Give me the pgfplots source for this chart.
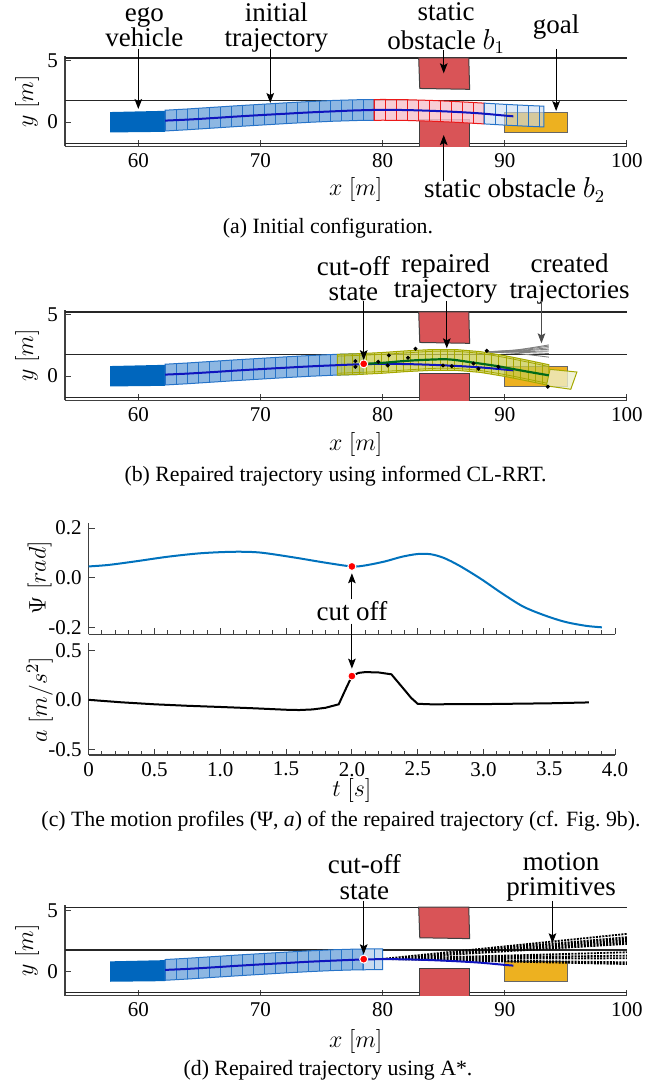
\documentclass[border=0pt]{standalone}
\usepackage{fontspec}
\setmainfont{Liberation Serif}
\usepackage{pgfplots}
\pgfplotsset{compat=1.18}
\usetikzlibrary{arrows.meta}

\definecolor{egoblue}{RGB}{0,102,189}
\definecolor{bandfill}{RGB}{141,183,226}
\definecolor{bandedge}{RGB}{38,115,200}
\definecolor{paleblue}{RGB}{200,218,240}
\definecolor{pinkfill}{RGB}{247,196,206}
\definecolor{rededge}{RGB}{235,25,25}
\definecolor{obst}{RGB}{217,84,87}
\definecolor{goalc}{RGB}{237,177,32}
\definecolor{trajblue}{RGB}{15,20,190}
\definecolor{repgreen}{RGB}{0,105,25}
\definecolor{yelfill}{RGB}{200,203,80}
\definecolor{yeledge}{RGB}{165,168,0}
\definecolor{psiblue}{RGB}{0,114,189}

\newcommand{\annfont}{\fontsize{13.5}{12.6}\selectfont}
\newcommand{\labfont}{\fontsize{13}{15}\selectfont}
\newcommand{\capfont}{\fontsize{10.9}{12}\selectfont}

\tikzset{
  ann/.style={font=\annfont, align=center, inner sep=0pt},
  annarrow/.style={-{Stealth[length=5pt,width=3.8pt,inset=1pt]}, line width=0.5pt, black},
}

\pgfplotsset{
  road/.style={
    scale only axis, width=281pt, height=45.2pt,
    xmin=54, xmax=100, ymin=-2, ymax=5.4,
    axis x line*=bottom, axis y line*=left,
    axis line style={black!75, line width=0.6pt},
    xtick={60,70,80,90,100}, xticklabels={60,70,80,90,100},
    ytick={0,5}, yticklabels={0,5},
    tick align=inside, major tick length=3pt,
    tick style={black!75, line width=0.5pt},
    ticklabel style={font=\fontsize{10.5}{12}\selectfont},
    clip mode=individual,
  },
  prof/.style={
    scale only axis, width=263.2pt, height=55.8pt,
    xmin=0, xmax=4,
    axis x line*=bottom, axis y line*=left,
    axis line style={black!75, line width=0.6pt},
    xtick={0,0.5,...,4}, minor x tick num=4,
    tick align=inside, major tick length=3pt, minor tick length=2pt,
    tick style={black!75, line width=0.5pt},
    ticklabel style={font=\fontsize{10.5}{12}\selectfont},
    clip mode=individual,
  },
  lanes/.style={black!85, line width=0.6pt},
  obstacle/.style={fill=obst, draw=black!75, line width=0.5pt},
  cutdot/.style={only marks, mark=*, mark size=2pt, mark options={fill=red, draw=white, line width=0.5pt}},
  fan/.style={black!50, line width=0.45pt, smooth},
}

\begin{document}
\begin{tikzpicture}
\useasboundingbox (0,0) rectangle (328pt,544.5pt);

%% (a) initial configuration
\begin{axis}[road, at={(32.5pt,471.25pt)}, anchor=south west]
\addplot[lanes] coordinates {(54,5.25)(100,5.25)};
\addplot[lanes] coordinates {(54,1.75)(100,1.75)};
\addplot[lanes] coordinates {(54,-1.75)(100,-1.75)};
\addplot[obstacle] coordinates {(82.95,5.25)(87.05,5.25)(87.12,2.68)(83.04,2.75)} -- cycle;
\addplot[obstacle] coordinates {(83.04,-2.3)(83.04,0.25)(87.12,0.25)(87.12,-2.3)} -- cycle;
\addplot[fill=goalc, draw=black!60, line width=0.5pt] coordinates {(90,-0.85)(95.1,-0.85)(95.1,0.78)(90,0.78)} -- cycle;
\addplot[fill=egoblue, draw=none] coordinates {(57.7,-0.85)(62.2,-0.8)(62.2,0.92)(57.7,0.82)} -- cycle;
% blue footprints
\addplot[fill=bandfill, draw=bandedge, line width=0.5pt] coordinates {
 (62.2,0.97)(64,1.07)(66,1.20)(68,1.33)(70,1.45)(72,1.57)(74,1.68)(76,1.77)(78,1.83)(79.3,1.84)
 (79.3,0.14)(78,0.13)(76,0.07)(74,-0.02)(72,-0.13)(70,-0.25)(68,-0.37)(66,-0.50)(64,-0.63)(62.2,-0.73)} -- cycle;
\addplot[bandedge, line width=0.5pt, quiver={u=0,v=1.7}] coordinates {
 (62.2,-0.73)(63.1,-0.68)(64.0,-0.63)(64.9,-0.57)(65.8,-0.51)(66.7,-0.45)(67.6,-0.40)(68.5,-0.34)
 (69.4,-0.29)(70.3,-0.23)(71.2,-0.18)(72.1,-0.12)(73.0,-0.07)(73.9,-0.03)(74.8,0.02)(75.7,0.06)
 (76.6,0.09)(77.5,0.12)(78.4,0.13)};
% colliding footprints
\addplot[fill=pinkfill, fill opacity=0.85, draw=rededge, line width=0.5pt] coordinates {
 (79.3,1.84)(80,1.85)(82,1.83)(84,1.77)(86,1.68)(88.3,1.55)
 (88.3,-0.15)(86,-0.02)(84,0.07)(82,0.13)(80,0.15)(79.3,0.14)} -- cycle;
\addplot[rededge, line width=0.5pt, quiver={u=0,v=1.7}] coordinates {
 (79.3,0.14)(80.2,0.15)(81.1,0.14)(82.0,0.13)(82.9,0.10)(83.8,0.08)(84.7,0.04)(85.6,0.00)
 (86.5,-0.05)(87.4,-0.10)};
\addplot[fill=paleblue, fill opacity=0.6, draw=bandedge, line width=0.5pt] coordinates {
 (88.3,1.55)(90,1.45)(92,1.35)(93.2,1.30)(93.2,-0.40)(92,-0.35)(90,-0.25)(88.3,-0.15)} -- cycle;
\addplot[bandedge, line width=0.5pt, quiver={u=0,v=1.7}] coordinates {
 (88.3,-0.15)(89.2,-0.20)(90.1,-0.25)(91.0,-0.30)(91.9,-0.35)(92.8,-0.38)};
\addplot[trajblue, line width=1pt, smooth] coordinates {
 (62.2,0.12)(64,0.2)(66,0.32)(68,0.45)(70,0.57)(72,0.68)(74,0.79)(76,0.88)(78,0.96)
 (80,1.0)(82,0.98)(84,0.92)(86,0.83)(88,0.71)(90,0.53)(90.7,0.47)};
\node[ann] at (axis cs:60.5,7.75) {ego\\vehicle};
\node[ann] at (axis cs:71.3,7.75) {initial\\trajectory};
\node[ann] at (axis cs:85.2,7.7) {static\\[2pt]obstacle $b_1$};
\node[ann] at (axis cs:94.2,7.75) {goal};
\node[ann] at (axis cs:90.8,-5.56) {static obstacle $b_2$};
\node[font=\labfont] at (axis cs:77.8,-5.56) {$x\ [m]$};
\node[font=\labfont, rotate=90] at (axis cs:50.9,1.7) {$y\ [m]$};
\draw[annarrow] (axis cs:60,6.0) -- (axis cs:60,1.07);
\draw[annarrow] (axis cs:70.8,6.0) -- (axis cs:70.8,1.56);
\draw[annarrow] (axis cs:85,5.9) -- (axis cs:85,3.99);
\draw[annarrow] (axis cs:94.2,6.0) -- (axis cs:94.2,0.9);
\draw[annarrow] (axis cs:85,-4.82) -- (axis cs:85,-1.06);
\end{axis}
\node[font=\capfont] at (164pt,430.6pt) {(a) Initial configuration.};

%% (b) informed CL-RRT
\begin{axis}[road, at={(32.5pt,344.25pt)}, anchor=south west]
\addplot[lanes] coordinates {(54,5.25)(100,5.25)};
\addplot[lanes] coordinates {(54,1.75)(100,1.75)};
\addplot[lanes] coordinates {(54,-1.75)(100,-1.75)};
\addplot[obstacle] coordinates {(82.95,5.25)(87.05,5.25)(87.12,2.68)(83.04,2.75)} -- cycle;
\addplot[obstacle] coordinates {(83.04,-2.3)(83.04,0.25)(87.12,0.25)(87.12,-2.3)} -- cycle;
\addplot[fill=goalc, draw=black!60, line width=0.5pt] coordinates {(90,-0.85)(95.1,-0.85)(95.1,0.78)(90,0.78)} -- cycle;
\addplot[fill=egoblue, draw=none] coordinates {(57.7,-0.85)(62.2,-0.8)(62.2,0.92)(57.7,0.82)} -- cycle;
\addplot[fill=bandfill, draw=bandedge, line width=0.5pt] coordinates {
 (62.2,0.97)(64,1.07)(66,1.20)(68,1.33)(70,1.45)(72,1.57)(74,1.68)(76,1.77)(78,1.83)(78.4,1.83)
 (78.4,0.13)(78,0.13)(76,0.07)(74,-0.02)(72,-0.13)(70,-0.25)(68,-0.37)(66,-0.50)(64,-0.63)(62.2,-0.73)} -- cycle;
\addplot[bandedge, line width=0.5pt, quiver={u=0,v=1.7}] coordinates {
 (62.2,-0.73)(63.1,-0.68)(64.0,-0.63)(64.9,-0.57)(65.8,-0.51)(66.7,-0.45)(67.6,-0.40)(68.5,-0.34)
 (69.4,-0.29)(70.3,-0.23)(71.2,-0.18)(72.1,-0.12)(73.0,-0.07)(73.9,-0.03)(74.8,0.02)(75.7,0.06)
 (76.6,0.09)(77.5,0.12)(78.4,0.13)};
% created trajectories
\addplot[fan] coordinates {(88.4,1.98)(91,2.15)(93.6,2.55)};
\addplot[fan] coordinates {(88.4,1.98)(91,2.12)(93.6,2.45)};
\addplot[fan] coordinates {(88.4,1.98)(91,2.08)(93.6,2.32)};
\addplot[fan] coordinates {(88.4,1.98)(91,2.05)(93.6,2.2)};
\addplot[fan] coordinates {(88.4,1.98)(91,2.0)(93.6,2.05)};
\addplot[fan] coordinates {(88.4,1.98)(91,1.95)(93.6,1.85)};
\addplot[fan] coordinates {(88.4,1.98)(91,1.85)(93.6,1.55)};
% repaired footprints
\addplot[fill=yelfill, fill opacity=0.75, draw=yeledge, line width=0.5pt] coordinates {
 (76.3,1.78)(78,1.83)(80,1.93)(82,2.07)(84,2.17)(86,2.17)(88,2.00)(90,1.67)(92,1.27)(93.6,0.93)
 (93.6,-0.77)(92,-0.43)(90,-0.03)(88,0.30)(86,0.47)(84,0.47)(82,0.37)(80,0.23)(78,0.13)(76.3,0.08)} -- cycle;
\addplot[yeledge, line width=0.4pt, quiver={u=0,v=1.7}] coordinates {
 (76.3,0.08)(76.9,0.10)(77.5,0.115)(78.1,0.135)(78.7,0.165)(79.3,0.195)(79.9,0.225)(80.5,0.265)
 (81.1,0.31)(81.7,0.35)(82.3,0.385)(82.9,0.415)(83.5,0.445)(84.1,0.47)(84.7,0.47)(85.3,0.47)
 (85.9,0.47)(86.5,0.43)(87.1,0.38)(87.7,0.325)(88.3,0.25)(88.9,0.15)(89.5,0.05)(90.1,-0.05)
 (90.7,-0.17)(91.3,-0.29)(91.9,-0.41)(92.5,-0.54)(93.1,-0.66)};
\addplot[yeledge, line width=0.4pt, smooth] coordinates {
 (76.3,1.63)(80,1.78)(84,2.02)(86,2.02)(88,1.85)(90,1.52)(92,1.12)(93.6,0.78)};
\addplot[yeledge, line width=0.4pt, smooth] coordinates {
 (76.3,0.23)(80,0.38)(84,0.62)(86,0.62)(88,0.45)(90,0.12)(92,-0.28)(93.6,-0.62)};
\addplot[fill=yelfill!30, fill opacity=0.8, draw=yeledge, line width=0.5pt] coordinates {
 (93.7,0.55)(95.9,0.33)(95.4,-1.08)(93.4,-0.8)} -- cycle;
\addplot[trajblue, line width=1pt, smooth] coordinates {
 (62.2,0.12)(64,0.2)(66,0.32)(68,0.45)(70,0.57)(72,0.68)(74,0.79)(76,0.88)(78,0.96)
 (80,1.0)(82,0.98)(84,0.92)(86,0.83)(88,0.71)(90,0.53)(90.7,0.47)};
\addplot[repgreen, line width=1.1pt, smooth] coordinates {
 (78.4,1.0)(80,1.08)(82,1.25)(84,1.35)(85.5,1.36)(87.5,1.09)(89.4,0.81)(91.3,0.46)(93.6,0.06)};
\addplot[only marks, mark=*, mark size=0.8pt, black] coordinates {
 (77.77,1.22)(77.77,0.76)(79.64,1.17)(80.51,1.69)(80.41,0.87)(82.07,1.5)(82.69,2.23)
 (84.94,0.87)(85.66,0.81)(87.44,1.03)(87.85,0.6)(88.53,2.07)(89.47,0.76)(93.52,-0.87)};
\addplot[cutdot] coordinates {(78.45,1.0)};
\node[ann] at (axis cs:77.6,7.95) {cut-off\\state};
\node[ann] at (axis cs:85.15,7.95) {repaired\\trajectory};
\node[ann] at (axis cs:95.3,7.95) {created\\trajectories};
\node[font=\labfont] at (axis cs:77.8,-5.64) {$x\ [m]$};
\node[font=\labfont, rotate=90] at (axis cs:50.9,1.7) {$y\ [m]$};
\draw[annarrow] (axis cs:78.45,6.15) -- (axis cs:78.45,1.3);
\draw[annarrow] (axis cs:85.25,6.15) -- (axis cs:85.25,2.27);
\draw[annarrow, black!70] (axis cs:93.0,6.15) -- (axis cs:93.0,2.68);
\end{axis}
\node[font=\capfont] at (167.8pt,306.2pt) {(b) Repaired trajectory using informed CL-RRT.};

%% (c) motion profiles
\begin{axis}[prof, name=cup, at={(44.35pt,227.35pt)}, anchor=south west,
  ymin=-0.227, ymax=0.222, xticklabels={},
  ytick={-0.2,0,0.2}, yticklabels={-0.2,0.0,0.2}]
\addplot[psiblue, line width=1pt, smooth, tension=0.5] coordinates {
 (0,0.046)(0.15,0.052)(0.35,0.066)(0.6,0.085)(0.85,0.099)(1.1,0.105)(1.3,0.102)(1.55,0.083)
 (1.8,0.061)(2.0,0.046)(2.1,0.050)(2.25,0.066)(2.38,0.085)(2.5,0.096)(2.6,0.095)(2.7,0.080)
 (2.82,0.048)(2.98,-0.004)(3.14,-0.062)(3.3,-0.115)(3.46,-0.150)(3.62,-0.177)(3.78,-0.193)(3.9,-0.199)};
\addplot[cutdot] coordinates {(2,0.046)};
\node[ann] at (axis cs:2,-0.132) {cut off};
\draw[annarrow] (axis cs:2,-0.087) -- (axis cs:2,0.0185);
\coordinate (cotail) at (axis cs:2,-0.184);
\node[font=\labfont, rotate=90] at (axis cs:-0.372,0) {$\Psi\ [rad]$};
\end{axis}
\begin{axis}[prof, at={(44.35pt,167pt)}, anchor=south west,
  ymin=-0.557, ymax=0.57,
  xticklabels={0,0.5,1.0,1.5,2.0,2.5,3.0,3.5,4.0},
  ytick={-0.5,0,0.5}, yticklabels={-0.5,0.0,0.5}]
\addplot[black, line width=1pt] coordinates {
 (0,0)(0.25,-0.025)(0.5,-0.045)(0.75,-0.06)(1.0,-0.072)(1.25,-0.085)(1.5,-0.1)(1.6,-0.103)
 (1.7,-0.097)(1.8,-0.08)(1.9,-0.045)(1.95,0.1)(2.0,0.24)(2.05,0.272)(2.1,0.28)(2.2,0.277)
 (2.3,0.258)(2.4,0.1)(2.45,0.02)(2.5,-0.04)(2.6,-0.045)(3.0,-0.043)(3.5,-0.035)(3.8,-0.026)};
\addplot[cutdot] coordinates {(2,0.24)};
\coordinate (cohead) at (axis cs:2,0.315);
\node[font=\labfont] at (axis cs:2,-0.92) {$t\ [s]$};
\node[font=\labfont, rotate=90] at (axis cs:-0.372,0) {$a\ [m/s^2]$};
\end{axis}
\draw[annarrow] (cotail) -- (cohead);
\node[font=\capfont] at (170.5pt,133.7pt) {(c) The motion profiles (Ψ, \textit{a}) of the repaired trajectory (cf. Fig.~9b).};

%% (d) A*
\begin{axis}[road, at={(32.5pt,46.6pt)}, anchor=south west]
\addplot[lanes] coordinates {(54,5.25)(100,5.25)};
\addplot[lanes] coordinates {(54,1.75)(100,1.75)};
\addplot[lanes] coordinates {(54,-1.75)(100,-1.75)};
\addplot[obstacle] coordinates {(82.95,5.25)(87.05,5.25)(87.12,2.68)(83.04,2.75)} -- cycle;
\addplot[obstacle] coordinates {(83.04,-2.3)(83.04,0.25)(87.12,0.25)(87.12,-2.3)} -- cycle;
\addplot[fill=goalc, draw=black!60, line width=0.5pt] coordinates {(90,-0.85)(95.1,-0.85)(95.1,0.78)(90,0.78)} -- cycle;
\addplot[fill=egoblue, draw=none] coordinates {(57.7,-0.85)(62.2,-0.8)(62.2,0.92)(57.7,0.82)} -- cycle;
\addplot[fill=bandfill, draw=bandedge, line width=0.5pt] coordinates {
 (62.2,0.97)(64,1.07)(66,1.20)(68,1.33)(70,1.45)(72,1.57)(74,1.68)(76,1.77)(78,1.83)(78.4,1.83)
 (78.4,0.13)(78,0.13)(76,0.07)(74,-0.02)(72,-0.13)(70,-0.25)(68,-0.37)(66,-0.50)(64,-0.63)(62.2,-0.73)} -- cycle;
\addplot[fill=paleblue, draw=bandedge, line width=0.5pt] coordinates {
 (78.4,1.83)(80,1.85)(80,0.15)(78.4,0.13)} -- cycle;
\addplot[bandedge, line width=0.5pt, quiver={u=0,v=1.7}] coordinates {
 (62.2,-0.73)(63.1,-0.68)(64.0,-0.63)(64.9,-0.57)(65.8,-0.51)(66.7,-0.45)(67.6,-0.40)(68.5,-0.34)
 (69.4,-0.29)(70.3,-0.23)(71.2,-0.18)(72.1,-0.12)(73.0,-0.07)(73.9,-0.03)(74.8,0.02)(75.7,0.06)
 (76.6,0.09)(77.5,0.12)(78.4,0.13)(79.3,0.14)};
% motion primitives
\addplot[black, line width=0.9pt, dash pattern=on 1pt off 0.6pt, unbounded coords=jump] coordinates {
 (80,1.02)(100,3.07) (nan,nan) (80,1.02)(100,2.8) (nan,nan) (80,1.02)(100,2.66) (nan,nan)
 (80,1.02)(100,2.52) (nan,nan) (80,1.02)(100,2.38) (nan,nan) (80,1.02)(100,2.25) (nan,nan)
 (80,1.02)(100,1.56) (nan,nan) (80,1.02)(100,1.29) (nan,nan) (80,1.02)(100,1.07) (nan,nan)
 (80,1.02)(100,0.74) (nan,nan) (80,1.02)(100,0.6)};
\addplot[trajblue, line width=1pt, smooth] coordinates {
 (62.2,0.12)(64,0.2)(66,0.32)(68,0.45)(70,0.57)(72,0.68)(74,0.79)(76,0.88)(78,0.96)
 (80,1.0)(82,0.98)(84,0.92)(86,0.83)(88,0.71)(90,0.53)(90.7,0.47)};
\addplot[cutdot] coordinates {(78.45,1.0)};
\node[ann] at (axis cs:78.5,7.72) {cut-off\\state};
\node[ann] at (axis cs:94.6,7.72) {motion\\primitives};
\node[font=\labfont] at (axis cs:77.8,-5.76) {$x\ [m]$};
\node[font=\labfont, rotate=90] at (axis cs:50.9,1.7) {$y\ [m]$};
\draw[annarrow] (axis cs:78.45,5.78) -- (axis cs:78.45,1.4);
\draw[annarrow] (axis cs:93.9,5.78) -- (axis cs:93.9,2.3);
\end{axis}
\node[font=\capfont] at (164pt,9.5pt) {(d) Repaired trajectory using A*.};
\end{tikzpicture}
\end{document}
